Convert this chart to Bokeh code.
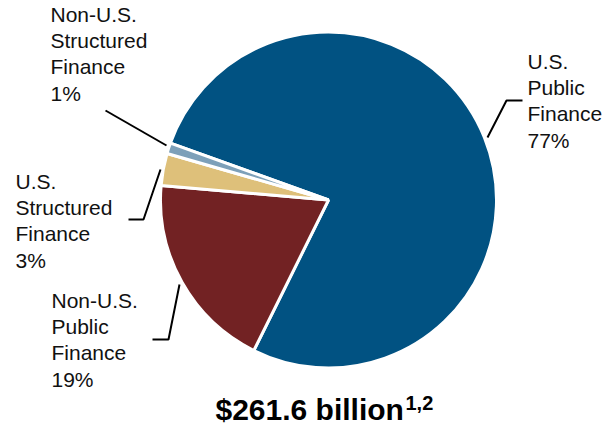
import math
from bokeh.plotting import figure
from bokeh.models import Range1d, ColumnDataSource
from bokeh.core.properties import value
from bokeh.embed import file_html
from bokeh.resources import INLINE

# ---- data (billions of dollars) ----
categories = ["U.S. Public Finance", "Non-U.S. Public Finance",
              "U.S. Structured Finance", "Non-U.S. Structured Finance"]
amounts = [201.0, 49.8, 8.1, 2.7]
pct_labels = ["77%", "19%", "3%", "1%"]
label_names = ["U.S.\nPublic\nFinance", "Non-U.S.\nPublic\nFinance",
               "U.S.\nStructured\nFinance", "Non-U.S.\nStructured\nFinance"]
colors = ["#015282", "#722223", "#DEC07A", "#7DA0B9"]
total_label = "$261.6 billion"
footnote = "1,2"

W, H = 602, 426
def Y(sy):
    return H - sy

p = figure(width=W, height=H, output_backend="svg", toolbar_location=None,
           x_range=Range1d(0, W), y_range=Range1d(0, H),
           min_border=0)
p.axis.visible = False
p.grid.visible = False
p.outline_line_color = None
p.background_fill_color = "white"
p.border_fill_color = "white"

# ---- pie wedges, clockwise from start angle ----
start_deg = 160.2
total = sum(amounts)
starts, ends = [], []
cum = 0.0
for a in amounts:
    hi = start_deg - cum / total * 360.0
    lo = hi - a / total * 360.0
    starts.append(math.radians(lo))
    ends.append(math.radians(hi))
    cum += a

src = ColumnDataSource(dict(start=starts, end=ends, color=colors, cat=categories))
p.wedge(x=328, y=Y(199.5), radius=168, radius_units="screen",
        start_angle="start", end_angle="end", fill_color="color",
        line_color="white", line_width=3, source=src)

# ---- labels ----
lab_x = [527, 51, 15, 50]
lab_top = [49, 288, 169, 2]
texts = [n + "\n" + pc for n, pc in zip(label_names, pct_labels)]
p.text(x=lab_x, y=[Y(t) for t in lab_top], text=texts,
       text_font=value("Liberation Sans"), text_font_size="21px",
       text_color="#111111", text_align="left", text_baseline="top",
       text_line_height=1.15)

# ---- leader lines ----
leaders_x = [[487, 506, 522], [179, 168, 152], [160, 143, 128], [105, 166]]
leaders_y = [[137, 100, 100], [284, 339, 339], [169, 219, 219], [110, 145]]
p.multi_line(xs=leaders_x, ys=[[Y(v) for v in ys] for ys in leaders_y],
             line_color="black", line_width=2)

# ---- total ----
p.text(x=[215], y=[Y(408.5)], text=[total_label],
       text_font=value("Liberation Sans"), text_font_size="30px",
       text_font_style="bold", text_color="black",
       text_align="left", text_baseline="alphabetic")
p.text(x=[405], y=[Y(402)], text=[footnote],
       text_font=value("Liberation Sans"), text_font_size="20px",
       text_font_style="bold", text_color="black",
       text_align="left", text_baseline="alphabetic")

open("out.html", "w").write(file_html(p, INLINE))
